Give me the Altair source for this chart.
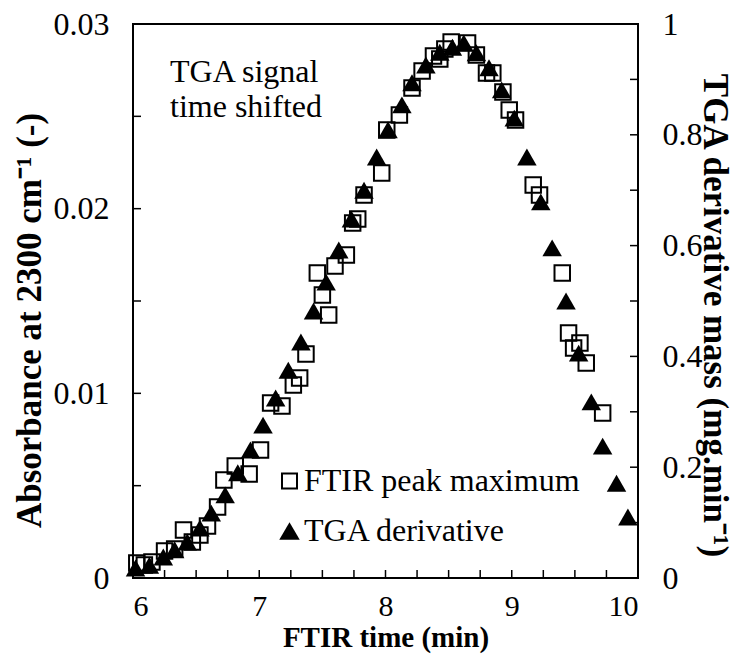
import altair as alt
import pandas as pd

# ---- data ----
ftir_time = [6.03, 6.09, 6.15, 6.25, 6.33, 6.40, 6.47, 6.53, 6.59, 6.67, 6.72, 6.81, 6.92,
             7.01, 7.09, 7.18, 7.27, 7.32, 7.37, 7.46, 7.50, 7.55, 7.60, 7.69, 7.74, 7.78,
             7.83, 7.97, 8.01, 8.11, 8.21, 8.29, 8.38, 8.43, 8.47, 8.52, 8.65, 8.72, 8.80,
             8.85, 8.93, 8.98, 9.03, 9.17, 9.22, 9.40, 9.45, 9.49, 9.54, 9.59, 9.72]
ftir_abs = [0.00081, 0.00070, 0.00087, 0.00146, 0.00157, 0.00260, 0.00195, 0.00233, 0.00282,
            0.00384, 0.00531, 0.00606, 0.00563, 0.00693, 0.00948, 0.00931, 0.01045, 0.01083,
            0.01213, 0.01652, 0.01532, 0.01424, 0.01690, 0.01749, 0.01922, 0.01944, 0.02074,
            0.02193, 0.02426, 0.02507, 0.02653, 0.02746, 0.02827, 0.02811, 0.02865, 0.02903,
            0.02897, 0.02832, 0.02735, 0.02735, 0.02632, 0.02534, 0.02480, 0.02128, 0.02074,
            0.01652, 0.01327, 0.01245, 0.01273, 0.01164, 0.00894]

tga_time = [6.02, 6.13, 6.24, 6.33, 6.43, 6.53, 6.62, 6.73, 6.83, 6.93, 7.03, 7.13, 7.23,
            7.33, 7.43, 7.53, 7.63, 7.73, 7.83, 7.93, 8.02, 8.13, 8.21, 8.32, 8.43, 8.53,
            8.62, 8.72, 8.82, 8.92, 9.02, 9.12, 9.23, 9.32, 9.43, 9.53, 9.63, 9.72, 9.83, 9.92]
tga_deriv = [0.018, 0.023, 0.038, 0.051, 0.065, 0.090, 0.117, 0.150, 0.190, 0.231, 0.276,
             0.325, 0.375, 0.426, 0.482, 0.534, 0.592, 0.648, 0.700, 0.760, 0.809, 0.854,
             0.894, 0.926, 0.949, 0.958, 0.966, 0.948, 0.921, 0.881, 0.830, 0.760, 0.679,
             0.596, 0.500, 0.406, 0.318, 0.238, 0.171, 0.110]

x_labels = [6, 7, 8, 9, 10]
x_ticks = [6.25, 6.5, 6.75, 7.0, 7.25, 7.5, 7.75, 8.0, 8.25, 8.5, 8.75, 9.0, 9.25, 9.5, 9.75]
yl_labels = [0, 0.01, 0.02, 0.03]
yl_ticks = [0.005, 0.01, 0.015, 0.02, 0.025]
yr_labels = [0, 0.2, 0.4, 0.6, 0.8, 1]
yr_ticks = [0.1, 0.2, 0.3, 0.4, 0.5, 0.6, 0.7, 0.8, 0.9]

x_title = "FTIR time (min)"
yl_title = "Absorbance at 2300 cm⁻¹ (-)"
yr_title = "TGA derivative mass (mg.min⁻¹)"
legend_labels = ["FTIR peak maximum", "TGA derivative"]
note_lines = ["TGA signal", "time shifted"]

# ---- layout ----
W, H = 505, 554
FONT = "Liberation Serif"
TICK = 8
LBL = 32

ftir = pd.DataFrame({"t": ftir_time, "a": ftir_abs})
tga = pd.DataFrame({"t": tga_time, "d": tga_deriv})

xs = alt.Scale(domain=[6, 10], nice=False, zero=False)
yls = alt.Scale(domain=[0, 0.03], nice=False)
yrs = alt.Scale(domain=[0, 1], nice=False)

common_axis = dict(ticks=False, domain=False, grid=False, labelFont=FONT, labelColor="black",
                   titleFont=FONT, titleColor="black", titleFontWeight="bold")

x_axis = alt.Axis(
    title=x_title, values=x_labels, format="d", labelFontSize=30, labelPadding=13,
    titleFontSize=29, titleX=W / 2, titleY=59, titleBaseline="middle", **common_axis)


def xenc():
    return alt.X("t:Q", scale=xs, axis=x_axis)


squares = alt.Chart(ftir).mark_point(
    shape="square", size=240, filled=False, color="black", strokeWidth=2, opacity=1
).encode(
    x=xenc(),
    y=alt.Y("a:Q", scale=yls, axis=alt.Axis(
        orient="left", title=yl_title, values=yl_labels, format="~g", labelFontSize=LBL,
        labelPadding=24, titleFontSize=35, titleAngle=-90, titleX=-104, titleY=296,
        titleAlign="center", titleBaseline="middle", **common_axis)),
)

triangles = alt.Chart(tga).mark_point(
    shape="triangle-up", size=380, filled=True, color="black", opacity=1, strokeWidth=0
).encode(
    x=xenc(),
    y=alt.Y("d:Q", scale=yrs, axis=alt.Axis(
        orient="right", title=yr_title, values=yr_labels, format="~g", labelFontSize=LBL,
        labelPadding=24, titleFontSize=35, titleAngle=90, titleX=76, titleY=291,
        titleAlign="center", titleBaseline="middle", **common_axis)),
)

xt = alt.Chart(pd.DataFrame({"t": x_ticks})).mark_rule(color="black", strokeWidth=1.5).encode(
    x=xenc(), y=alt.value(H), y2=alt.value(H - TICK))

ylt = alt.Chart(pd.DataFrame({"v": yl_ticks})).mark_rule(color="black", strokeWidth=1.5).encode(
    y=alt.Y("v:Q", scale=yls, axis=None), x=alt.value(0), x2=alt.value(TICK))

yrt = alt.Chart(pd.DataFrame({"v": yr_ticks})).mark_rule(color="black", strokeWidth=1.5).encode(
    y=alt.Y("v:Q", scale=yrs, axis=None), x=alt.value(W - TICK), x2=alt.value(W))

note = alt.Chart(pd.DataFrame({"s": ["\n".join(note_lines)]})).mark_text(
    font=FONT, fontSize=32, align="left", baseline="alphabetic", lineBreak="\n",
    lineHeight=35, color="black"
).encode(text="s:N", x=alt.value(37), y=alt.value(58))

leg_sym_sq = alt.Chart(pd.DataFrame({"k": [legend_labels[0]]})).mark_point(
    shape="square", size=225, filled=False, color="black", strokeWidth=2, opacity=1
).encode(x=alt.value(156.5), y=alt.value(457))
leg_sym_tri = alt.Chart(pd.DataFrame({"k": [legend_labels[1]]})).mark_point(
    shape="triangle-up", size=420, filled=True, color="black", opacity=1, strokeWidth=0
).encode(x=alt.value(156.5), y=alt.value(507))
leg_text = alt.Chart(pd.DataFrame({"k": legend_labels, "yy": [457, 507]})).mark_text(
    font=FONT, fontSize=32, align="left", baseline="middle", color="black"
).encode(text="k:N", x=alt.value(171), y=alt.Y("yy:Q", scale=None, axis=None))

chart = alt.layer(
    squares, triangles, xt, ylt, yrt, note, leg_sym_sq, leg_sym_tri, leg_text
).resolve_scale(y="independent").properties(
    width=W, height=H,
    background="white",
    autosize=alt.AutoSizeParams(type="none"),
    padding={"left": 133, "top": 24, "right": 100, "bottom": 80},
).configure_view(stroke="black", strokeWidth=2)

chart.save("out.html", embed_options={"renderer": "svg", "actions": False})
